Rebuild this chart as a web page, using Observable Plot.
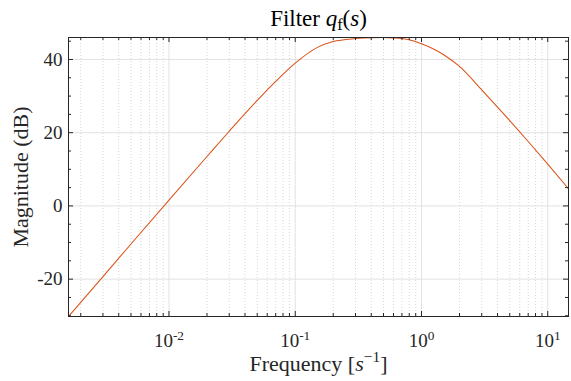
<!DOCTYPE html>
<html><head><meta charset="utf-8">
<script src="https://cdn.jsdelivr.net/npm/d3@7"></script>
<script src="https://cdn.jsdelivr.net/npm/@observablehq/plot@0.6"></script>
<style>html,body{margin:0;padding:0;background:#fff} svg{display:block}</style>
</head><body><div id="chart"></div>
<script>
// Frequency samples [1/s] and magnitude [dB]
const freq  = [0.0016, 0.003, 0.005, 0.01, 0.02, 0.03, 0.04, 0.05, 0.07, 0.1, 0.15, 0.2, 0.3, 0.4, 0.5, 0.6, 0.8, 1.0, 1.5, 2, 3, 4, 5, 7, 10, 14.6];
const magDb = [-30.2, -19.3, -10.4, 1.6, 13.5, 20.4, 25.2, 28.8, 34.0, 39.0, 43.3, 44.9, 45.7, 45.95, 46.0, 45.9, 45.4, 44.3, 41.3, 38.1, 31.7, 27.0, 23.3, 17.6, 11.4, 4.7];

// Axis ticks
const xMajor = [0.01, 0.1, 1, 10];
const xMajorLabels = ["10^-2", "10^-1", "10^0", "10^1"];
const xMinor = [0.002,0.003,0.004,0.005,0.006,0.007,0.008,0.009,
                0.02,0.03,0.04,0.05,0.06,0.07,0.08,0.09,
                0.2,0.3,0.4,0.5,0.6,0.7,0.8,0.9,
                2,3,4,5,6,7,8,9];
const yMajor = [-20, 0, 20, 40];
const yMinor = [-30,-25,-15,-10,-5,5,10,15,25,30,35,45];

const titleText = "Filter q_f(s)";
const xLabelText = "Frequency [s^-1]";
const yLabelText = "Magnitude (dB)";

const data = freq.map((f, i) => ({f, db: magDb[i]}));

const W = 571, H = 381, mT = 37, mR = 3, mB = 65, mL = 68;
const fw = W - mL - mR, fh = H - mT - mB;
const axisColor = "#262626";

const chart = Plot.plot({
  width: W, height: H,
  marginTop: mT, marginRight: mR, marginBottom: mB, marginLeft: mL,
  x: {type: "log", domain: [0.0016, 14.6]},
  y: {domain: [-30.2, 46]},
  style: {fontFamily: "'Liberation Serif', 'Times New Roman', serif", fontSize: "19px", color: axisColor, background: "#fff"},
  marks: [
    Plot.gridX(xMinor, {stroke: "#d6d6d6", strokeOpacity: 1, strokeDasharray: "1,2"}),
    Plot.gridX(xMajor, {stroke: "#e2e2e2", strokeOpacity: 1}),
    Plot.gridY(yMajor, {stroke: "#e2e2e2", strokeOpacity: 1}),
    Plot.line(data, {x: "f", y: "db", stroke: "#D95319", strokeWidth: 1.05, curve: "monotone-x"}),
    Plot.frame({stroke: axisColor, strokeWidth: 1}),
    // inward ticks, bottom / top
    Plot.tickX(xMajor, {x: d => d, stroke: axisColor, insetTop: fh - 5}),
    Plot.tickX(xMinor, {x: d => d, stroke: axisColor, insetTop: fh - 3}),
    Plot.tickX(xMajor, {x: d => d, stroke: axisColor, insetBottom: fh - 5}),
    Plot.tickX(xMinor, {x: d => d, stroke: axisColor, insetBottom: fh - 3}),
    // inward ticks, left / right
    Plot.tickY(yMajor, {y: d => d, stroke: axisColor, insetRight: fw - 5}),
    Plot.tickY(yMinor, {y: d => d, stroke: axisColor, insetRight: fw - 3}),
    Plot.tickY(yMajor, {y: d => d, stroke: axisColor, insetLeft: fw - 5}),
    Plot.tickY(yMinor, {y: d => d, stroke: axisColor, insetLeft: fw - 3}),
    // tick labels
    Plot.axisY(yMajor, {anchor: "left", tickSize: 0, tickPadding: 6, tickFormat: d => String(d), label: null, fill: axisColor, fontSize: 19}),
    Plot.axisX(xMajor, {anchor: "bottom", tickSize: 0, tickPadding: 17, tickFormat: d => xMajorLabels[xMajor.indexOf(d)], label: null, fill: axisColor, fontSize: 19}),
    // title and axis labels
    Plot.text([titleText], {frameAnchor: "top", lineAnchor: "middle", dy: -19, fontSize: 23, fill: "#000"}),
    Plot.text([xLabelText], {frameAnchor: "bottom", lineAnchor: "middle", dy: 47, fontSize: 22, fill: axisColor}),
    Plot.text([yLabelText], {frameAnchor: "left", lineAnchor: "middle", textAnchor: "middle", rotate: -90, dx: -48, fontSize: 22, fill: axisColor})
  ]
});

const svg = d3.select(chart);
const texts = svg.selectAll("text");
// x tick labels as 10^n
texts.filter(function() { return /^10\^/.test(this.textContent); }).each(function() {
  const t = d3.select(this);
  const e = t.text().slice(3);
  t.text(null);
  t.append("tspan").text("10");
  t.append("tspan").attr("dy", "-0.55em").attr("font-size", "0.7em").text(e);
});
// title with math
texts.filter(function() { return this.textContent === titleText; }).each(function() {
  const t = d3.select(this);
  t.text(null);
  t.append("tspan").text("Filter ");
  t.append("tspan").attr("font-style", "italic").text("q");
  t.append("tspan").attr("dy", "0.25em").attr("font-size", "0.7em").text("f");
  t.append("tspan").attr("dy", "-0.175em").text("(");
  t.append("tspan").attr("font-style", "italic").text("s");
  t.append("tspan").text(")");
});
texts.filter(function() { return this.textContent === xLabelText; }).each(function() {
  const t = d3.select(this);
  t.text(null);
  t.append("tspan").text("Frequency [");
  t.append("tspan").attr("font-style", "italic").text("s");
  t.append("tspan").attr("dy", "-0.55em").attr("font-size", "0.7em").text("−1");
  t.append("tspan").attr("dy", "0.385em").text("]");
});

document.getElementById("chart").append(chart);
</script>
</body></html>
